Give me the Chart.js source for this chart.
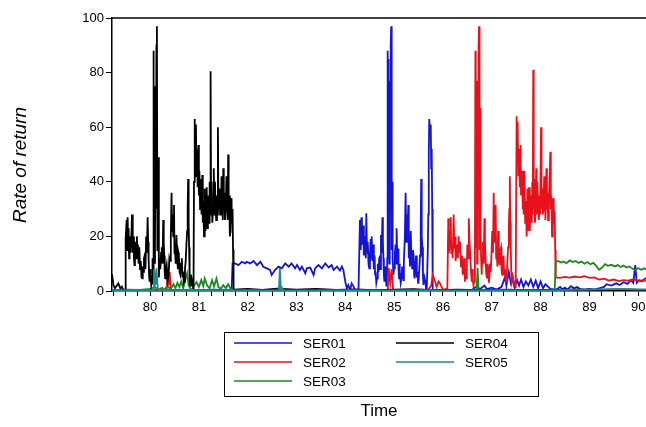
<!DOCTYPE html>
<html>
<head>
<meta charset="utf-8">
<script src="https://cdn.jsdelivr.net/npm/chart.js@4.4.0/dist/chart.umd.min.js"></script>
<style>
  html, body { margin: 0; padding: 0; background: #fff; }
  #wrap { width: 646px; height: 427px; }
</style>
</head>
<body>
<div id="wrap"><canvas id="chart" width="646" height="427"></canvas></div>
<script>
// ===== DATA (time in years, rate of return) =====
const seriesNames  = ["SER01", "SER02", "SER03", "SER04", "SER05"];
const seriesColors = ["#1414d8", "#e8101a", "#1a8a1a", "#000000", "#1a8a96"];
const yTicks = [0, 20, 40, 60, 80, 100];
const xTickLabels = [80, 81, 82, 83, 84, 85, 86, 87, 88, 89, 90];
const xTitle = "Time";
const yTitle = "Rate of return";

const ser01 = [
  [79.22,0.3],[79.5,0.4],[79.8,0.3],[80.1,0.5],[80.4,0.3],[80.7,0.4],[81.0,0.3],[81.3,0.5],[81.6,0.3],[81.67,0.3],
  [81.69,10.1],[81.74,10.1],[81.81,9.5],[81.88,10.7],[81.95,10.1],[81.98,10.7],[82.05,10.1],[82.12,11],[82.19,9.5],
  [82.26,10.7],[82.32,8.9],[82.39,8.3],[82.46,7.7],[82.49,5.9],[82.56,7.7],[82.63,8.9],[82.7,8.3],[82.77,10.1],
  [82.84,8.9],[82.9,10.1],[82.97,8.3],[83.01,9.5],[83.07,7.7],[83.11,8.9],[83.18,6.5],[83.21,8.3],[83.28,8.6],
  [83.35,5.9],[83.38,8.3],[83.45,9.5],[83.52,8.3],[83.59,10.1],[83.66,8.6],[83.72,9.5],[83.76,7.7],[83.83,8.9],
  [83.89,7.5],[83.93,9],[83.96,7.7],[84.0,3.4],[84.03,1],[84.06,2.2],[84.1,0.4],[84.13,2.8],[84.17,1.6],[84.2,0.2],
  [84.27,0.4],[84.3,26],[84.315,15],[84.33,27],[84.34,20],[84.35,17],[84.365,24],[84.38,13],[84.395,20],[84.41,17],
  [84.42,12],[84.43,28.5],[84.445,14],[84.46,18],[84.475,10],[84.49,8.3],[84.505,14],[84.52,19],[84.53,12],[84.54,20],
  [84.555,11],[84.57,17],[84.585,8],[84.6,13],[84.61,6],[84.62,7],[84.635,3],[84.65,4.6],[84.665,10],[84.68,7],
  [84.695,12],[84.71,13],[84.72,8],[84.73,20.5],[84.745,14],[84.76,27],[84.77,18],[84.78,12],[84.79,6],[84.8,3.4],
  [84.815,9],[84.83,6],[84.84,2],[84.85,3.4],[84.86,12],[84.865,88],[84.87,30],[84.875,85],[84.88,28],[84.89,64],
  [84.9,10],[84.91,77],[84.92,30],[84.93,90],[84.94,97],[84.95,15],[84.96,40],[84.97,12],[84.985,6],[85.0,8.3],
  [85.015,14],[85.03,17],[85.04,10],[85.05,23],[85.065,12],[85.08,15.6],[85.09,8],[85.1,4.6],[85.11,10],[85.12,7],
  [85.135,3],[85.15,4.6],[85.165,9],[85.18,7],[85.19,4],[85.2,11],[85.22,20],[85.235,36],[85.25,18],[85.26,28],
  [85.275,20],[85.29,31.5],[85.3,12],[85.31,16],[85.325,9],[85.34,22],[85.355,12],[85.37,8.3],[85.385,15],[85.4,13],
  [85.41,6],[85.42,4.6],[85.435,9],[85.45,13],[85.465,5],[85.48,7],[85.49,3],[85.5,3.4],[85.515,8],[85.53,13],
  [85.545,24],[85.555,41],[85.565,20],[85.58,16],[85.59,6],[85.6,2.2],[85.62,5],[85.64,3.4],[85.655,0.8],[85.67,1.6],
  [85.69,15],[85.7,28],[85.71,50],[85.72,63],[85.735,58],[85.75,61],[85.76,45],[85.77,52],[85.78,30],[85.79,0.3],
  [86.0,0.4],[86.3,0.3],[86.6,0.5],[86.7,1.8],[86.75,0.6],[86.85,2],[86.9,0.7],[87.0,1.2],[87.1,0.5],[87.2,1.5],
  [87.27,5],[87.3,2],[87.35,7],[87.39,3],[87.43,5],[87.47,1.5],[87.52,4],[87.56,2],[87.6,4.2],[87.65,1.5],[87.7,3.5],
  [87.75,2],[87.8,4.2],[87.85,1.5],[87.9,3.8],[87.95,1],[88.0,3.5],[88.05,1],[88.1,2.5],[88.2,0.8],[88.3,0.5],
  [88.35,0.8],[88.4,1.5],[88.45,0.6],[88.5,1.2],[88.55,0.5],[88.62,1.8],[88.68,1],[88.75,1.5],[88.82,0.6],[88.9,0.4],
  [89.0,0.8],[89.1,0.5],[89.2,1],[89.3,1.5],[89.35,2.5],[89.45,2],[89.55,2.8],[89.62,2.2],[89.7,3.2],[89.78,2.6],
  [89.85,4],[89.9,3],[89.94,9.5],[89.97,3],[90.02,4],[90.08,3.5],[90.16,4.8]
];

const ser02 = [
  [79.22,0.3],[79.6,0.2],[80.0,0.4],[80.34,0.3],[80.36,8],[80.38,2],[80.4,7],[80.43,0.3],[80.8,0.4],[81.2,0.2],
  [81.7,0.3],[82.2,0.4],[82.8,0.2],[83.4,0.4],[84.0,0.3],[84.5,0.2],[84.87,0.3],[84.89,8.5],[84.92,3],[84.95,8],
  [84.98,0.4],[85.3,0.3],[85.7,0.4],[85.76,2],[85.79,5.9],[85.83,4],[85.87,1.5],[85.91,3.5],[85.94,2.8],[86.0,0.4],
  [86.05,0.7],[86.09,0.2],[86.11,26.6],[86.12,14],[86.13,15.6],[86.145,22],[86.16,27],[86.17,14],[86.18,17],[86.2,12],
  [86.22,28],[86.23,18],[86.24,15.6],[86.25,20],[86.26,11],[86.275,15],[86.29,17],[86.305,12],[86.32,20],[86.335,14],
  [86.35,18],[86.37,9],[86.39,13],[86.405,6],[86.42,8],[86.435,12],[86.45,3.4],[86.465,8],[86.48,4.6],[86.49,10],
  [86.5,17],[86.515,12],[86.53,26.6],[86.545,18],[86.56,13],[86.575,7],[86.59,3.4],[86.6,8],[86.61,4.6],[86.625,2],
  [86.64,3.4],[86.655,12],[86.665,88],[86.67,30],[86.675,85],[86.68,16],[86.69,69],[86.7,10],[86.71,77],[86.72,30],
  [86.73,90],[86.74,97],[86.75,15],[86.76,67],[86.77,25],[86.78,13],[86.79,6],[86.8,8],[86.81,12],[86.82,18],
  [86.835,10],[86.85,26.6],[86.86,18],[86.87,13],[86.885,7],[86.9,4.6],[86.915,10],[86.93,8],[86.94,3],[86.95,4.6],
  [86.965,10],[86.98,7],[86.995,14],[87.01,22],[87.025,14],[87.04,36],[87.05,18],[87.06,25],[87.07,18],[87.08,31.5],
  [87.09,12],[87.1,16],[87.115,9],[87.13,22],[87.145,12],[87.16,9.5],[87.175,15],[87.19,16],[87.2,8],[87.21,6],
  [87.225,10],[87.24,13],[87.255,6],[87.27,8],[87.285,4],[87.3,3.4],[87.31,7],[87.32,11],[87.335,16],[87.35,23],
  [87.36,30],[87.37,42],[87.38,25],[87.39,16],[87.4,7],[87.41,3.4],[87.43,5],[87.45,2.2],[87.47,3],[87.49,1],
  [87.51,64],[87.52,48],[87.53,62],[87.545,42],[87.56,52],[87.575,38],[87.59,53.5],[87.6,35],[87.62,44],[87.63,30],
  [87.64,40],[87.655,28],[87.67,44],[87.685,25],[87.7,33],[87.715,20],[87.73,37.5],[87.74,22],[87.75,25],[87.765,38],
  [87.78,22],[87.795,35],[87.81,33],[87.82,25],[87.83,40],[87.84,28],[87.85,81],[87.86,30],[87.87,41],[87.885,25],
  [87.9,30],[87.91,45],[87.92,28],[87.935,40],[87.95,31.5],[87.965,26],[87.98,35],[87.99,28],[88.01,60],[88.02,30],
  [88.03,37.5],[88.045,28],[88.06,30],[88.075,42],[88.09,33],[88.1,26],[88.12,45],[88.13,30],[88.14,36],[88.155,26],
  [88.17,31.5],[88.185,42],[88.2,51],[88.21,30],[88.22,35],[88.235,20],[88.25,22],[88.26,34],[88.27,31.5],[88.28,25],
  [88.29,29],[88.3,15],[88.31,5],[88.4,4.8],[88.5,5.2],[88.6,4.9],[88.7,5.3],[88.8,5],[88.9,5.4],[89.0,4.8],
  [89.1,5],[89.2,4.2],[89.3,4.5],[89.4,3.8],[89.5,4.2],[89.6,3.6],[89.7,4],[89.8,3.8],[89.9,4.3],[90.0,3.6],
  [90.1,4],[90.16,3.7]
];

const ser03 = [
  [79.22,0.3],[79.5,0.5],[79.8,0.4],[80.0,0.8],[80.1,1.5],[80.17,0.5],[80.25,1.2],[80.3,0.4],[80.35,2],[80.42,0.6],
  [80.48,2.5],[80.52,1],[80.56,3],[80.6,1.5],[80.64,3.5],[80.68,1],[80.72,4],[80.76,6.5],[80.79,2],[80.83,0.8],
  [80.87,0.4],[80.9,2],[80.95,3.3],[81.0,1.5],[81.05,4],[81.09,1.8],[81.12,4.6],[81.17,2],[81.22,1],[81.27,4],
  [81.31,1.6],[81.36,4.6],[81.4,1.5],[81.45,0.8],[81.5,2.2],[81.55,1],[81.6,2.5],[81.65,0.8],[81.7,0.3],[82.5,0.2],
  [83.5,0.3],[84.5,0.2],[85.5,0.3],[86.5,0.2],[86.69,0.3],[86.71,8.5],[86.73,0.3],[87.5,0.3],[88.29,0.3],[88.31,10.7],
  [88.36,11],[88.42,10.4],[88.47,10.8],[88.53,10.2],[88.6,11.2],[88.66,10.6],[88.72,11],[88.78,10.3],[88.84,10.8],
  [88.9,10],[88.96,10.6],[89.02,9.8],[89.08,10.3],[89.14,9.2],[89.2,7.8],[89.26,8.6],[89.32,9.8],[89.38,9.2],
  [89.45,9.6],[89.52,9],[89.58,9.5],[89.64,8.8],[89.7,9.3],[89.76,8.6],[89.82,9],[89.88,8.2],[89.94,7.6],[90.0,8.4],
  [90.06,7.8],[90.12,8.3],[90.16,8]
];

const ser04 = [
  [79.22,6.2],[79.25,2.2],[79.28,1],[79.32,2],[79.35,2.8],[79.39,1],[79.42,1.6],[79.45,0.4],[79.49,0.4],[79.5,19],
  [79.52,26],[79.53,15],[79.54,27],[79.55,18],[79.56,23],[79.57,12],[79.58,14],[79.59,20],[79.6,14],[79.62,22],
  [79.63,28],[79.645,14],[79.66,20],[79.67,12],[79.68,9.5],[79.69,16],[79.7,18],[79.715,12],[79.73,20],[79.74,14],
  [79.75,17],[79.765,10],[79.78,16],[79.795,8],[79.81,11],[79.825,5],[79.84,4.6],[79.85,9],[79.86,7],[79.875,12],
  [79.89,13],[79.905,8],[79.92,20],[79.935,14],[79.95,27],[79.96,18],[79.97,12],[79.98,6],[79.99,3.4],[80.0,8],
  [80.01,6],[80.025,2],[80.04,3],[80.05,12],[80.06,4],[80.065,88],[80.07,30],[80.075,85],[80.08,20],[80.09,60],
  [80.1,10],[80.11,75],[80.12,30],[80.13,90],[80.14,97],[80.15,15],[80.16,30],[80.17,49],[80.18,5],[80.195,12],
  [80.21,8],[80.225,14],[80.24,16],[80.255,10],[80.27,26],[80.28,18],[80.29,13],[80.3,7],[80.31,4.6],[80.325,8],
  [80.34,9.5],[80.36,4],[80.38,6],[80.395,12],[80.41,11],[80.425,20],[80.44,36],[80.45,22],[80.46,28],[80.475,20],
  [80.49,31.5],[80.5,14],[80.51,16],[80.525,10],[80.54,20.5],[80.555,12],[80.57,8],[80.58,14],[80.59,13],[80.605,7],
  [80.62,6],[80.635,10],[80.65,12],[80.665,5],[80.68,7],[80.69,3],[80.7,3.4],[80.715,8],[80.73,11],[80.745,17],
  [80.76,22],[80.77,30],[80.78,41],[80.79,25],[80.8,16],[80.81,5],[80.82,2],[80.835,6],[80.85,4.6],[80.87,2],
  [80.89,1],[80.9,40],[80.91,63],[80.92,48],[80.94,61],[80.95,42],[80.96,52],[80.975,38],[80.99,53.5],[81.0,35],
  [81.01,44],[81.025,30],[81.04,41],[81.055,28],[81.07,42.5],[81.08,25],[81.09,33],[81.105,20],[81.12,37.5],[81.135,22],
  [81.15,25],[81.16,38],[81.17,23],[81.185,35],[81.2,33],[81.21,25],[81.22,40],[81.23,28],[81.24,80.5],[81.25,30],
  [81.26,40],[81.275,25],[81.29,30],[81.305,45],[81.32,28],[81.33,40],[81.34,31.5],[81.355,26],[81.37,35],[81.38,28],
  [81.39,60],[81.4,30],[81.42,37.5],[81.435,28],[81.45,30],[81.465,42],[81.48,33],[81.49,26],[81.5,45],[81.51,30],
  [81.52,36],[81.535,26],[81.55,30],[81.565,42],[81.58,34],[81.59,26],[81.6,50],[81.61,30],[81.62,35],[81.635,20],
  [81.65,22],[81.66,34],[81.67,31.5],[81.68,25],[81.69,30],[81.7,15],[81.71,0.5],[82.0,0.8],[82.3,0.4],[82.6,0.9],
  [83.0,0.5],[83.4,0.8],[83.8,0.4],[84.2,0.6],[84.6,0.3],[85.0,0.5],[85.4,0.7],[85.8,0.3],[86.3,0.5],[86.8,0.3],
  [87.3,0.5],[87.8,0.3],[88.3,0.4],[88.8,0.6],[89.3,0.4],[89.8,0.6],[90.16,0.4]
];

const ser05 = [
  [79.22,0.2],[79.6,0.3],[80.0,0.2],[80.06,0.3],[80.08,8],[80.11,2],[80.13,8.3],[80.16,0.5],[80.5,0.2],[81.0,0.3],
  [81.5,0.2],[82.0,0.3],[82.5,0.2],[82.64,0.3],[82.66,8.4],[82.68,0.5],[82.7,1.2],[82.73,0.3],[83.3,0.2],[84.0,0.3],
  [84.8,0.2],[85.6,0.3],[86.4,0.2],[87.2,0.3],[88.0,0.2],[88.6,0.4],[89.2,0.6],[89.6,0.8],[90.0,0.5],[90.16,0.6]
];

const seriesData = [ser01, ser02, ser03, ser04, ser05];

// quarter-year minor ticks
const quarterTicks = [];
for (let q = 79.25; q <= 90.0001; q += 0.25) quarterTicks.push(q);

const FONT = '"Liberation Sans", Arial, sans-serif';

// ===== TITLES, TOP BORDER AND BOXED LEGEND =====
const decor = {
  id: "decor",
  afterDraw(chart) {
    const { ctx, chartArea: a } = chart;
    ctx.save();
    ctx.strokeStyle = "#000";
    ctx.lineWidth = 1.5;
    ctx.beginPath();
    ctx.moveTo(a.left, a.top);
    ctx.lineTo(a.right, a.top);
    ctx.stroke();

    ctx.fillStyle = "#000";
    ctx.textAlign = "center";
    ctx.textBaseline = "middle";
    ctx.font = "17px " + FONT;
    ctx.fillText(xTitle, (a.left + a.right) / 2, 411);

    ctx.save();
    ctx.translate(21, 165);
    ctx.rotate(-Math.PI / 2);
    ctx.font = "italic 19px " + FONT;
    ctx.fillText(yTitle, 0, 0);
    ctx.restore();

    // legend box
    ctx.lineWidth = 1;
    ctx.strokeStyle = "#000";
    ctx.strokeRect(224.5, 332.5, 314, 64);
    ctx.font = "13.5px " + FONT;
    ctx.textAlign = "left";
    const lineX = [234, 396], textX = [303, 465], rowY = [343, 362, 381];
    seriesNames.forEach((name, i) => {
      const col = i < 3 ? 0 : 1;
      const row = i < 3 ? i : i - 3;
      ctx.strokeStyle = seriesColors[i];
      ctx.lineWidth = 1.5;
      ctx.beginPath();
      ctx.moveTo(lineX[col], rowY[row]);
      ctx.lineTo(lineX[col] + 58, rowY[row]);
      ctx.stroke();
      ctx.fillStyle = "#000";
      ctx.fillText(name, textX[col], rowY[row] + 1);
    });
    ctx.restore();
  }
};

const ctx = document.getElementById("chart").getContext("2d");
new Chart(ctx, {
  type: "line",
  data: {
    datasets: seriesNames.map((name, i) => ({
      label: name,
      data: seriesData[i].map(p => ({ x: p[0], y: p[1] })),
      borderColor: seriesColors[i],
      borderWidth: 1.8,
      pointRadius: 0,
      tension: 0,
      fill: false,
      order: 5 - i
    }))
  },
  options: {
    responsive: false,
    animation: false,
    events: [],
    layout: { padding: { left: 0, right: 0, top: 18, bottom: 106 } },
    plugins: { legend: { display: false }, tooltip: { enabled: false } },
    scales: {
      x: {
        type: "linear",
        min: 79.22,
        max: 90.16,
        afterBuildTicks: s => { s.ticks = quarterTicks.map(v => ({ value: v })); },
        afterFit: s => { s.height = 30; s.paddingLeft = 0; s.paddingRight = 0; },
        ticks: {
          autoSkip: false,
          maxRotation: 0,
          padding: 4,
          color: "#000",
          font: { family: FONT, size: 13 },
          callback: v => xTickLabels.includes(v) ? String(v) : ""
        },
        grid: { drawOnChartArea: false, tickLength: 5, color: "#000", lineWidth: 1 },
        border: { color: "#000", width: 1.5 }
      },
      y: {
        min: 0,
        max: 100,
        afterBuildTicks: s => { s.ticks = yTicks.map(v => ({ value: v })); },
        afterFit: s => { s.width = 112; },
        ticks: { color: "#000", padding: 2, font: { family: FONT, size: 13 } },
        grid: { drawOnChartArea: false, tickLength: 6, color: "#000", lineWidth: 1 },
        border: { color: "#000", width: 1.5 }
      }
    }
  },
  plugins: [decor]
});
</script>
</body>
</html>
